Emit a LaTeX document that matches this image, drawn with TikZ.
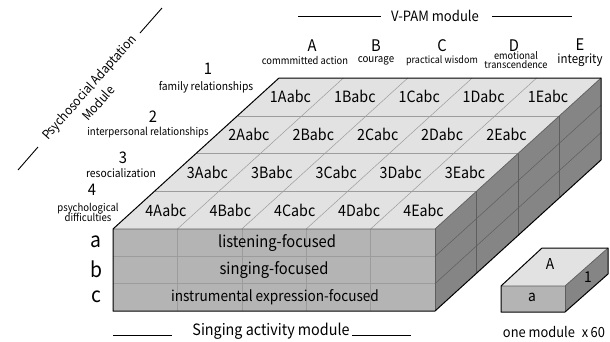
\documentclass[tikz,border=0pt]{standalone}
\usepackage{fontspec}
\setmainfont{Noto Sans CJK KR}[FakeStretch=0.92]
\definecolor{topc}{HTML}{E2E2E2}
\definecolor{frontc}{HTML}{B4B4B4}
\definecolor{sidec}{HTML}{858585}
\definecolor{gridc}{HTML}{9C9C9C}
\definecolor{sidegrid}{HTML}{5E5E5E}
\begin{document}
\begin{tikzpicture}[x=1pt,y=-1pt,
  txt/.style={inner sep=0pt,outer sep=0pt},
  cell/.style={txt,font=\fontsize{15.5}{16}\selectfont},
  big/.style={txt,font=\fontsize{16}{16}\selectfont},
  layer/.style={txt,font=\fontsize{21}{21}\selectfont},
  desc/.style={txt,font=\fontsize{11.2}{12}\selectfont},
  small/.style={txt,font=\fontsize{10}{10}\selectfont,align=center},
  title/.style={txt,font=\fontsize{15}{15}\selectfont},
  thinline/.style={draw=gridc,line width=0.5pt},
  sideline/.style={draw=sidegrid,line width=0.5pt},
  outline/.style={draw=black,line width=1pt,line join=round},
  rule/.style={draw=black,line width=0.9pt}]
\useasboundingbox[fill=white] (0,0) rectangle (610,341);

% ---------- main block ----------
\fill[topc] (113,229) -- (435,229) -- (601,78) -- (279,78) -- cycle;
\fill[frontc] (113,229) rectangle (435,311);
\fill[sidec] (435,229) -- (601,78) -- (601,160) -- (435,311) -- cycle;
% top face grid
\foreach \k in {1,2,3}
  \draw[thinline] ({113+41.5*\k},{229-37.75*\k}) -- ({435+41.5*\k},{229-37.75*\k});
\foreach \j in {1,...,4}
  \draw[thinline] ({113+64.4*\j},229) -- ({279+64.4*\j},78);
% front face grid
\foreach \j in {1,...,4}
  \draw[thinline] ({113+64.4*\j},229) -- ({113+64.4*\j},311);
\foreach \l in {1,2}
  \draw[thinline] (113,{229+27.33*\l}) -- (435,{229+27.33*\l});
% side face grid
\foreach \l in {1,2}
  \draw[sideline] (435,{229+27.33*\l}) -- (601,{78+27.33*\l});
\foreach \k in {1,2,3}
  \draw[sideline] ({435+41.5*\k},{229-37.75*\k}) -- ({435+41.5*\k},{311-37.75*\k});
% edges
\draw[draw=sidegrid,line width=0.7pt] (113,229) -- (435,229) -- (601,78);
\draw[draw=sidegrid,line width=0.7pt] (435,229) -- (435,311);
\draw[outline] (113,229) -- (279,78) -- (601,78) -- (601,160) -- (435,311) -- (113,311) -- cycle;

% cells
\foreach \i in {1,...,4}
  \foreach \c [count=\j] in {A,B,C,D,E}
    \node[cell] (c\i\c) at ({113+41.5*(4.5-\i)+64.4*(\j-0.5)},{229-37.75*(4.5-\i)}) {\i\c abc};

% front texts
\node[cell,font=\fontsize{16}{16}\selectfont] (fa) at (277,243) {listening-focused};
\node[cell,font=\fontsize{16}{16}\selectfont] (fb) at (274,270) {singing-focused};
\node[cell,font=\fontsize{14.8}{15}\selectfont] (fc) at (275,297) {instrumental expression-focused};

% layer labels
\node[layer] (la) at (96,242) {a};
\node[layer] (lb) at (96,269) {b};
\node[layer] (lc) at (96,297) {c};

% column labels
\node[big] (colA) at (312,46) {A};
\node[big] (colB) at (376,46) {B};
\node[big] (colC) at (442,46) {C};
\node[big] (colD) at (514,46) {D};
\node[big] (colE) at (580,45) {E};
\node[desc,font=\fontsize{10.2}{11}\selectfont] (dA) at (305,61) {commmitted action};
\node[desc,font=\fontsize{10.6}{11}\selectfont] (dB) at (376,61) {courage};
\node[desc,font=\fontsize{9.8}{10}\selectfont] (dC) at (442,61) {practical wisdom};
\node[small] (dD) at (516,60) {emotional\\[-1.5pt]transcendence};
\node[desc,font=\fontsize{12.5}{13}\selectfont] (dE) at (580,60) {integrity};

% V-PAM module title
\node[title,font=\fontsize{14.2}{15}\selectfont] (vpam) at (435,16) {V-PAM module};
\coordinate (vl1) at (298,16); \coordinate (vl2) at (381,16);
\coordinate (vr1) at (492,16); \coordinate (vr2) at (572,16);
\draw[rule] (vl1) -- (vl2);
\draw[rule] (vr1) -- (vr2);

% row labels
\node[big] (r1) at (208,69) {1};
\node[desc] (r1d) at (206,87) {family relationships};
\node[big] (r2) at (153,117) {2};
\node[desc,font=\fontsize{10.5}{11}\selectfont] (r2d) at (148,133) {interpersonal relationships};
\node[big] (r3) at (123,158) {3};
\node[desc] (r3d) at (121,173) {resocialization};
\node[big] (r4) at (92,190) {4};
\node[small,font=\fontsize{10.4}{10}\selectfont] (r4d) at (88,212) {psychological\\[-2pt]difficulties};

% diagonal module label
\node[title,font=\fontsize{12.8}{13}\selectfont,rotate=48.5] (pam) at (90,88) {Psychosocial Adaptation};
\node[title,font=\fontsize{12.8}{13}\selectfont,rotate=48.5] (pamm) at (98,103) {Module};
\coordinate (dl1) at (18,170); \coordinate (dl2) at (38,147);
\coordinate (du1) at (140,33); \coordinate (du2) at (162,8);
\draw[rule] (dl1) -- (dl2);
\draw[rule] (du1) -- (du2);

% bottom title
\node[title,font=\fontsize{15.6}{16}\selectfont] (sam) at (271,331) {Singing activity module};
\coordinate (sl1) at (113,335); \coordinate (sl2) at (172,335);
\coordinate (sr1) at (352,335); \coordinate (sr2) at (411,335);
\draw[rule] (sl1) -- (sl2);
\draw[rule] (sr1) -- (sr2);

% ---------- single module ----------
\fill[topc] (501,286) -- (565,286) -- (608,248) -- (542,248) -- cycle;
\fill[frontc] (501,286) rectangle (565,312);
\fill[sidec] (565,286) -- (608,248) -- (608,274) -- (565,312) -- cycle;
\draw[draw=sidegrid,line width=0.7pt] (501,286) -- (565,286) -- (608,248);
\draw[draw=sidegrid,line width=0.7pt] (565,286) -- (565,312);
\draw[outline] (501,286) -- (542,248) -- (608,248) -- (608,274) -- (565,312) -- (501,312) -- cycle;
\node[big,font=\fontsize{15}{15}\selectfont] (mA) at (550,264) {A};
\node[big,font=\fontsize{15}{15}\selectfont] (m1) at (588,277) {1};
\node[big,font=\fontsize{15}{15}\selectfont] (ma) at (532,297) {a};
\node[title,font=\fontsize{14}{15}\selectfont] (one) at (554,332) {one module\enspace x\,60};
\end{tikzpicture}
\end{document}
